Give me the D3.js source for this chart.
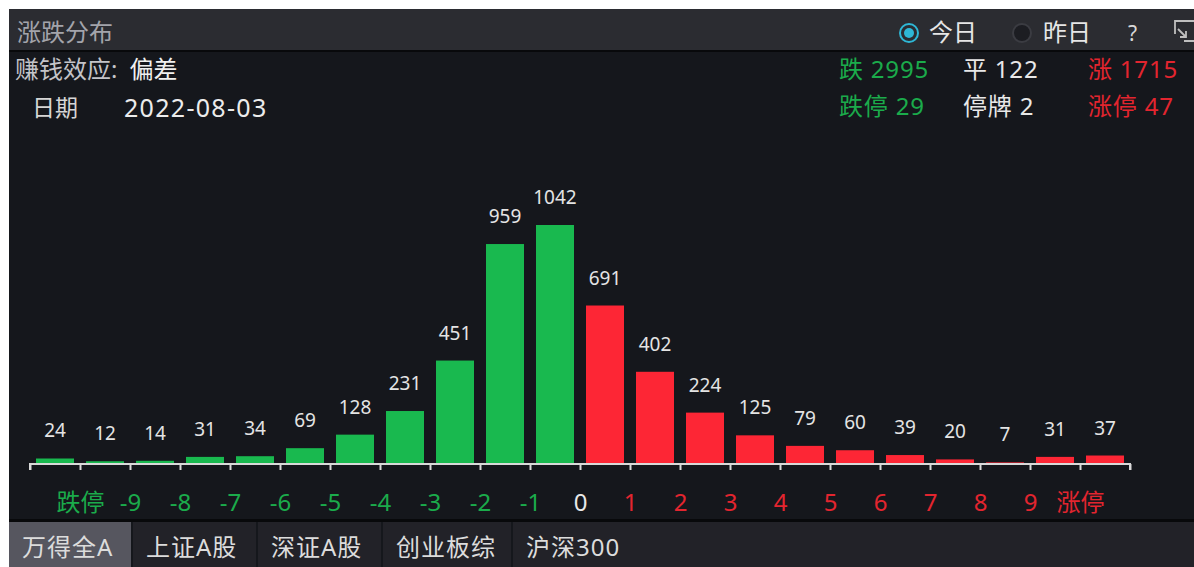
<!DOCTYPE html>
<html>
<head>
<meta charset="utf-8">
<script src="https://cdn.jsdelivr.net/npm/d3@7"></script>
<style>
  html, body { margin: 0; padding: 0; background: #ffffff; }
  svg { display: block; }
  text { font-family: "Noto Sans", "Noto Sans CJK SC", sans-serif; }
</style>
</head>
<body>
<svg id="chart" width="1194" height="567"></svg>
<script>
// bucket counts, left (down) to right (up)
var downCounts = [24, 12, 14, 31, 34, 69, 128, 231, 451, 959, 1042];
var upCounts = [691, 402, 224, 125, 79, 60, 39, 20, 7, 31, 37];
var tickLabels = ["跌停", "-9", "-8", "-7", "-6", "-5", "-4", "-3", "-2", "-1", "0",
                  "1", "2", "3", "4", "5", "6", "7", "8", "9", "涨停"];
var tabs = ["万得全A", "上证A股", "深证A股", "创业板综", "沪深300"];
var statsRow1 = [["跌 2995", "down"], ["平 122", "flat"], ["涨 1715", "up"]];
var statsRow2 = [["跌停 29", "down"], ["停牌 2", "flat"], ["涨停 47", "up"]];

var colors = {
  down: "#19b94f",
  up: "#fd2635",
  downText: "#1bab4b",
  upText: "#e3252f",
  flat: "#e8e8e8"
};
var FONT = "'Noto Sans', 'Noto Sans CJK SC', sans-serif";

var svg = d3.select("#chart");
var W = 1194, H = 567;

// panel background
svg.append("rect").attr("x", 9).attr("y", 9).attr("width", W - 9).attr("height", H - 9)
    .attr("fill", "#15171c");

// header
svg.append("rect").attr("x", 9).attr("y", 9).attr("width", W - 9).attr("height", 42)
    .attr("fill", "#2b2c31");
svg.append("rect").attr("x", 9).attr("y", 50).attr("width", W - 9).attr("height", 2)
    .attr("fill", "#08090b");
svg.append("text").attr("x", 17).attr("y", 41).attr("font-size", 24)
    .attr("fill", "#a3a4ab").text("涨跌分布");

// radio buttons
svg.append("circle").attr("cx", 909).attr("cy", 33).attr("r", 9)
    .attr("fill", "none").attr("stroke", "#2eb7d6").attr("stroke-width", 2);
svg.append("circle").attr("cx", 909).attr("cy", 33).attr("r", 5).attr("fill", "#2eb7d6");
svg.append("text").attr("x", 929).attr("y", 41).attr("font-size", 24)
    .attr("fill", "#e6e6e6").text("今日");
svg.append("circle").attr("cx", 1022).attr("cy", 33).attr("r", 9)
    .attr("fill", "#1c1d22").attr("stroke", "#3b3c42").attr("stroke-width", 2);
svg.append("text").attr("x", 1043).attr("y", 41).attr("font-size", 24)
    .attr("fill", "#e6e6e6").text("昨日");
svg.append("text").attr("x", 1128).attr("y", 41).attr("font-size", 21)
    .attr("fill", "#d8d8d8").text("?");
svg.append("path").attr("d", "M1194,21 L1175,21 L1175,34 M1178,29 L1186,37 M1186,31 L1186,37 L1180,37 M1184,41 L1194,41")
    .attr("fill", "none").attr("stroke", "#bfbfbf").attr("stroke-width", 1.8);

// info lines
var info = svg.append("text").attr("x", 15).attr("y", 78).attr("font-size", 24);
info.append("tspan").attr("fill", "#c4c4c8").text("赚钱效应:");
info.append("tspan").attr("dx", 12).attr("fill", "#f0f0f0").text("偏差");
svg.append("text").attr("x", 32).attr("y", 116).attr("font-size", 23)
    .attr("fill", "#d6d6d6").text("日期");
svg.append("text").attr("x", 124).attr("y", 117).attr("font-size", 25)
    .attr("letter-spacing", 1.3).attr("fill", "#ececec").text("2022-08-03");

// summary stats
var statX = [839, 963, 1088];
function statColor(k) { return k === "down" ? colors.downText : k === "up" ? colors.upText : colors.flat; }
[statsRow1, statsRow2].forEach(function(row, r) {
  svg.selectAll(null).data(row).enter().append("text")
      .attr("x", function(d, i) { return statX[i]; })
      .attr("y", r === 0 ? 78 : 115)
      .attr("font-size", 24)
      .attr("letter-spacing", 0.8)
      .attr("fill", function(d) { return statColor(d[1]); })
      .text(function(d) { return d[0]; });
});

// chart
var values = downCounts.concat(upCounts);
var x = d3.scaleLinear().domain([0, values.length]).range([30, 1130]);
var y = d3.scaleLinear().domain([0, d3.max(values)]).range([464, 225]);
var step = x(1) - x(0), barW = 38;

var bars = svg.append("g");
bars.selectAll("rect").data(values).enter().append("rect")
    .attr("x", function(d, i) { return x(i) + (step - barW) / 2; })
    .attr("y", function(d) { return y(d); })
    .attr("width", barW)
    .attr("height", function(d) { return y(0) - y(d); })
    .attr("fill", function(d, i) { return i < downCounts.length ? colors.down : colors.up; });

bars.selectAll("text").data(values).enter().append("text")
    .attr("x", function(d, i) { return x(i + 0.5); })
    .attr("y", function(d) { return y(d) - 21; })
    .attr("text-anchor", "middle")
    .attr("font-size", 19)
    .attr("fill", "#e4e4e4")
    .text(function(d) { return d; });

// axis: ticks at every bucket edge, labels on the inner ones
var axis = d3.axisBottom(x)
    .tickValues(d3.range(0, values.length + 1))
    .tickSize(6)
    .tickPadding(24)
    .tickFormat(function(d) { return tickLabels[d - 1] || ""; });

var gAxis = svg.append("g").attr("transform", "translate(0,464)").call(axis);
gAxis.select(".domain").attr("stroke", "#d9d9d9").attr("stroke-width", 2)
    .attr("d", "M" + x(0) + ",6V0H" + x(values.length) + "V6");
gAxis.selectAll(".tick line").attr("stroke", "#d9d9d9").attr("stroke-width", 2);
gAxis.selectAll(".tick text")
    .attr("font-size", 24)
    .attr("font-family", FONT)
    .attr("fill", function(d) { return d < 11 ? colors.downText : d > 11 ? colors.upText : "#e8e8e8"; });

// bottom tabs
svg.append("rect").attr("x", 9).attr("y", 519).attr("width", W - 9).attr("height", 3)
    .attr("fill", "#08090b");
var tabEdges = [9, 131, 256, 381, 511, W];
svg.selectAll(null).data(tabs).enter().append("rect")
    .attr("x", function(d, i) { return tabEdges[i] + (i ? 2 : 0); })
    .attr("y", 522)
    .attr("width", function(d, i) { return tabEdges[i + 1] - tabEdges[i] - (i ? 2 : 0); })
    .attr("height", H - 522)
    .attr("fill", function(d, i) { return i === 0 ? "#56565f" : "#222228"; });
svg.selectAll(null).data(tabs).enter().append("text")
    .attr("x", function(d, i) { return tabEdges[i] + 13 + (i ? 2 : 0); })
    .attr("y", 556)
    .attr("font-size", 24)
    .attr("letter-spacing", 1)
    .attr("fill", "#dcdcdc")
    .text(function(d) { return d; });
</script>
</body>
</html>
